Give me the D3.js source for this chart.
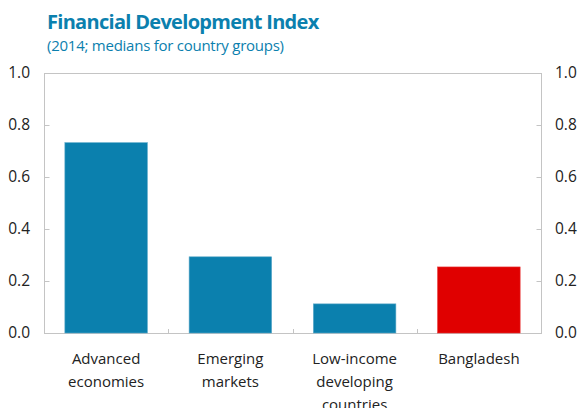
<!DOCTYPE html>
<html>
<head>
<meta charset="utf-8">
<script src="https://cdn.jsdelivr.net/npm/d3@7"></script>
<style>
  html, body { margin: 0; padding: 0; background: #fff; }
  svg { display: block; }
  text { font-family: "Open Sans", "Noto Sans", sans-serif; }
</style>
</head>
<body>
<svg id="chart" width="579" height="408"></svg>
<script>
// Financial Development Index, 2014 medians by country group
const categories = [
  ["Advanced", "economies"],
  ["Emerging", "markets"],
  ["Low-income", "developing", "countries"],
  ["Bangladesh"]
];
const values = [0.732, 0.293, 0.112, 0.254];
const highlight = [false, false, false, true];
const yTicks = [0, 0.2, 0.4, 0.6, 0.8, 1.0];

const svg = d3.select("#chart");
const margin = { left: 44, right: 38, top: 73, bottom: 75 };
const W = 579, H = 408;
const x0 = margin.left, x1 = W - margin.right;
const y0 = H - margin.bottom, y1 = margin.top;

const blue = "#0b80ae";
const red = "#e00000";
const axisGrey = "#c4c4c4";

// Titles
svg.append("text")
  .attr("x", 47).attr("y", 29)
  .attr("fill", blue)
  .attr("font-weight", "bold")
  .attr("font-size", 20)
  .attr("letter-spacing", -0.7)
  .text("Financial Development Index");
svg.append("text")
  .attr("x", 47).attr("y", 51)
  .attr("fill", blue)
  .attr("font-size", 15)
  .attr("letter-spacing", -0.25)
  .text("(2014; medians for country groups)");

const x = d3.scaleBand()
  .domain(d3.range(categories.length))
  .range([x0, x1])
  .paddingInner(0.336)
  .paddingOuter(0.168);

const y = d3.scaleLinear().domain([0, 1]).range([y0, y1]);

// Plot frame in light grey
const frame = svg.append("g").attr("fill", "none").attr("stroke", axisGrey).attr("stroke-width", 1);
frame.append("rect")
  .attr("x", x0 + 0.5).attr("y", y1 + 0.5)
  .attr("width", x1 - x0).attr("height", y0 - y1);

// Short inward ticks on both value axes
const left = svg.append("g").attr("transform", `translate(${x0 + 0.5},0)`)
  .call(d3.axisRight(y).tickValues(yTicks).tickSize(5).tickFormat(""));
left.select(".domain").remove();
left.selectAll("line").attr("stroke", axisGrey);

const right = svg.append("g").attr("transform", `translate(${x1 + 0.5},0)`)
  .call(d3.axisLeft(y).tickValues(yTicks).tickSize(5).tickFormat(""));
right.select(".domain").remove();
right.selectAll("line").attr("stroke", axisGrey);

// Tick labels on both sides
const fmt = d3.format(".1f");
svg.append("g").selectAll("text").data(yTicks).join("text")
  .attr("x", 30).attr("y", d => y(d) + 5)
  .attr("text-anchor", "end")
  .attr("font-size", 15.5).attr("fill", "#222")
  .text(fmt);
svg.append("g").selectAll("text").data(yTicks).join("text")
  .attr("x", 555).attr("y", d => y(d) + 5)
  .attr("text-anchor", "start")
  .attr("font-size", 15.5).attr("fill", "#222")
  .text(fmt);

// Category separators on the baseline
const seps = d3.range(1, categories.length).map(i => x0 + i * (x1 - x0) / categories.length);
svg.append("g").selectAll("line").data(seps).join("line")
  .attr("x1", d => Math.round(d) + 0.5).attr("x2", d => Math.round(d) + 0.5)
  .attr("y1", y0 - 4).attr("y2", y0 + 0.5)
  .attr("stroke", axisGrey);

// Bars
svg.append("g").selectAll("rect").data(values).join("rect")
  .attr("x", (d, i) => x(i))
  .attr("y", d => y(d))
  .attr("width", x.bandwidth())
  .attr("height", d => y0 - y(d))
  .attr("fill", (d, i) => highlight[i] ? red : blue)
  .attr("stroke", (d, i) => highlight[i] ? "#e83030" : "#5aa8c8")
  .attr("stroke-width", 0.6);

// Category labels
const lbl = svg.append("g").selectAll("text").data(categories).join("text")
  .attr("x", (d, i) => x(i) + x.bandwidth() / 2)
  .attr("y", 364)
  .attr("text-anchor", "middle")
  .attr("font-size", 15)
  .attr("fill", "#222");
lbl.selectAll("tspan").data(d => d).join("tspan")
  .attr("x", function () { return this.parentNode.getAttribute("x"); })
  .attr("dy", (d, j) => j === 0 ? 0 : 23)
  .text(d => d);
</script>
</body>
</html>
